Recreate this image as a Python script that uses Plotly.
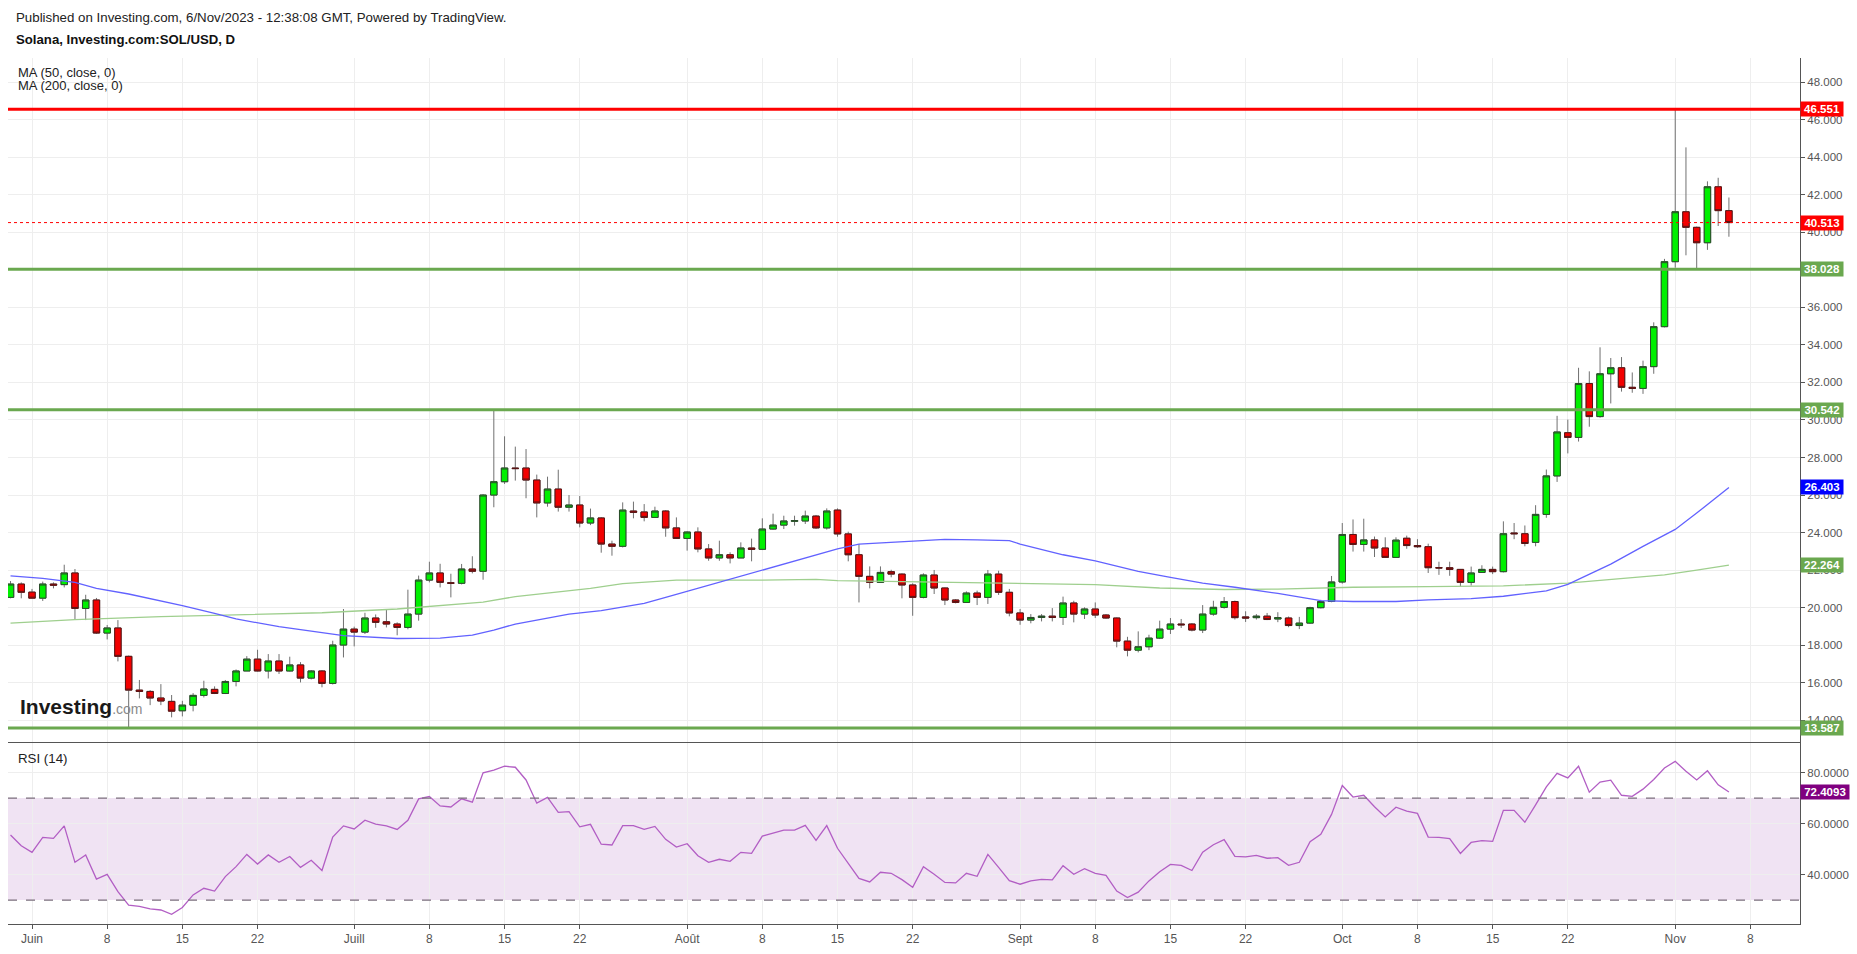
import pandas as pd
import plotly.graph_objects as go

# ---------------- data ----------------
dates = pd.date_range("2023-05-30", "2023-11-06", freq="D")

opens = [20.55, 21.26, 20.83, 20.51, 21.26, 21.23, 21.85, 19.96, 20.41, 18.65,
         18.92, 17.41, 15.61, 15.54, 15.19, 15.01, 14.51, 14.81, 15.33, 15.65,
         15.43, 16.07, 16.63, 17.26, 16.63, 17.16, 16.63, 16.95, 16.25, 16.63,
         15.97, 18.01,
         18.86, 18.70, 19.45, 19.25, 19.13, 18.95, 19.66, 21.47, 21.85, 21.33,
         21.30, 22.06, 21.94, 26.00, 26.71, 27.44, 27.44, 26.80, 25.58, 26.32,
         25.35, 25.47, 24.51, 24.78, 23.39, 23.27, 25.15, 25.10, 24.81, 25.15,
         24.25,
         23.69, 24.03, 23.13, 22.65, 22.82, 22.65, 23.18, 23.11, 24.19, 24.40,
         24.60, 24.62, 24.88, 24.25, 25.20, 23.93, 22.82, 21.67, 21.35, 21.92,
         21.79, 21.21, 20.55, 21.74, 21.05, 20.41, 20.28, 20.78, 20.55, 21.79,
         20.82,
         19.72, 19.34, 19.48, 19.55, 19.48, 20.25, 19.66, 19.93, 19.61, 19.45,
         18.22, 17.74, 17.92, 18.38, 18.86, 19.13, 19.13, 18.81, 19.66, 20.02,
         20.33, 19.51, 19.47, 19.55, 19.40, 19.45, 19.05, 19.18, 20.00, 20.33,
         21.37, 23.90, 23.37, 23.61, 23.18, 22.68, 23.70, 23.31, 23.25, 22.13,
         22.13, 22.04, 21.35, 21.88, 22.04, 21.92, 23.98, 23.94, 23.48, 24.97,
         27.02, 29.32, 29.07, 31.94, 30.18, 32.46, 32.78, 31.74, 31.68, 32.84,
         34.97,
         38.43, 41.09, 40.26, 39.44, 42.42, 41.15]
highs = [21.42, 21.35, 21.00, 21.39, 21.35, 22.29, 22.06, 20.69, 20.52, 19.08,
         19.34, 17.45, 16.15, 15.61, 15.93, 15.35, 15.04, 15.45, 16.11, 15.81,
         16.15, 16.71, 17.42, 17.76, 17.53, 17.53, 17.39, 17.10, 16.68, 16.68,
         18.24, 19.93,
         18.99, 19.73, 19.64, 19.93, 19.22, 20.96, 21.71, 22.45, 22.34, 21.81,
         22.33, 22.74, 26.05, 30.542, 29.13, 28.58, 28.45, 27.09, 26.98, 27.35,
         26.00, 25.95, 25.28, 24.83, 23.57, 25.61, 25.65, 25.52, 25.38, 25.20,
         24.81,
         24.07, 24.28, 23.39, 23.57, 22.95, 23.48, 23.68, 24.76, 25.01, 24.90,
         24.90, 25.17, 24.94, 25.29, 25.29, 24.05, 23.39, 22.20, 22.20, 22.02,
         21.83, 21.30, 21.83, 22.01, 21.07, 20.46, 20.87, 20.91, 22.01, 21.97,
         21.00,
         19.93, 19.66, 19.66, 19.98, 20.59, 20.37, 20.02, 20.28, 19.66, 19.48,
         18.45, 18.74, 18.56, 19.31, 19.45, 19.40, 19.18, 20.14, 20.37, 20.57,
         20.38, 19.81, 19.66, 19.72, 19.76, 19.53, 19.51, 20.05, 20.42, 21.69,
         24.51, 24.70, 24.74, 23.79, 23.75, 23.75, 23.84, 23.65, 23.41, 22.45,
         22.45, 22.06, 22.19, 22.26, 22.19, 24.60, 24.51, 24.38, 25.46, 27.36,
         30.22, 30.02, 32.78, 32.59, 33.87, 33.30, 33.35, 32.53, 33.16, 35.20,
         38.58,
         46.551, 44.52, 40.30, 42.71, 42.90, 41.85]
lows = [20.50, 20.50, 20.50, 20.36, 21.03, 21.08, 19.38, 19.34, 18.60, 18.31,
        17.14, 13.587, 15.17, 14.81, 14.81, 14.16, 14.21, 14.48, 15.22, 15.40,
        15.40, 15.81, 16.63, 16.60, 16.23, 16.47, 16.60, 16.02, 16.18, 15.76,
        15.91, 17.35,
        17.94, 18.60, 18.93, 18.95, 18.53, 18.85, 19.31, 21.35, 21.08, 20.55,
        21.24, 21.83, 21.49, 25.35, 26.59, 26.77, 25.83, 24.81, 25.38, 25.12,
        25.12, 24.28, 24.40, 22.93, 22.77, 23.21, 24.76, 24.60, 24.78, 23.78,
        23.66,
        23.04, 22.95, 22.50, 22.50, 22.36, 22.65, 22.47, 23.07, 24.16, 24.19,
        24.37, 24.46, 24.19, 24.16, 23.78, 22.47, 20.28, 21.03, 21.35, 21.62,
        20.50, 19.57, 20.50, 20.73, 20.14, 20.23, 20.28, 20.14, 20.20, 20.68,
        19.54,
        19.09, 19.17, 19.27, 19.27, 19.08, 19.22, 19.40, 19.45, 19.41, 17.89,
        17.41, 17.62, 17.74, 18.33, 18.60, 18.92, 18.74, 18.65, 19.57, 19.95,
        19.37, 19.24, 19.37, 19.34, 19.23, 18.96, 18.86, 19.14, 19.96, 20.29,
        21.28, 22.99, 22.99, 22.70, 22.65, 22.65, 23.14, 23.18, 21.85, 21.75,
        21.70, 21.12, 21.18, 21.85, 21.79, 21.88, 23.65, 23.27, 23.27, 24.79,
        26.70, 28.22, 28.85, 29.64, 30.12, 30.88, 31.51, 31.45, 31.39, 32.46,
        34.93,
        38.11, 38.77, 38.028, 39.06, 40.33, 39.76]
closes = [21.26, 20.82, 20.51, 21.26, 21.20, 21.85, 19.96, 20.41, 18.65, 18.92,
          17.41, 15.61, 15.54, 15.19, 15.03, 14.49, 14.81, 15.33, 15.67, 15.43,
          16.07, 16.63, 17.26, 16.63, 17.16, 16.63, 16.95, 16.25, 16.63, 15.97,
          18.01, 18.86,
          18.70, 19.45, 19.22, 19.13, 18.95, 19.66, 21.47, 21.85, 21.35, 21.30,
          22.06, 21.94, 26.00, 26.71, 27.44, 27.41, 26.80, 25.58, 26.32, 25.35,
          25.47, 24.51, 24.78, 23.39, 23.27, 25.20, 25.08, 24.81, 25.15, 24.25,
          23.69,
          24.03, 23.13, 22.65, 22.82, 22.65, 23.18, 23.11, 24.19, 24.40, 24.62,
          24.64, 24.88, 24.25, 25.15, 23.93, 22.82, 21.67, 21.35, 21.88, 21.79,
          21.21, 20.55, 21.74, 21.05, 20.41, 20.28, 20.78, 20.55, 21.79, 20.82,
          19.72,
          19.34, 19.48, 19.55, 19.48, 20.25, 19.66, 19.93, 19.61, 19.45, 18.22,
          17.74, 17.92, 18.38, 18.86, 19.13, 19.09, 18.81, 19.66, 20.02, 20.33,
          19.47, 19.45, 19.55, 19.37, 19.47, 19.05, 19.18, 20.00, 20.33, 21.37,
          23.90, 23.37, 23.61, 23.18, 22.68, 23.60, 23.31, 23.25, 22.13, 22.12,
          22.04, 21.35, 21.85, 22.04, 21.92, 23.94, 23.94, 23.42, 24.97, 27.02,
          29.36, 29.07, 31.94, 30.18, 32.46, 32.78, 31.74, 31.68, 32.84, 34.97,
          38.43,
          41.09, 40.26, 39.44, 42.42, 41.15, 40.513]

rsi_values = [55.5, 51.3, 48.7, 54.6, 54.2, 59.1, 44.8, 47.7, 38.2, 40.1,
              33.3, 28.0, 27.5, 26.5, 26.1, 24.4, 27.1, 32.0, 34.6, 33.5,
              39.2, 43.1, 47.9, 44.1, 47.7, 44.8, 47.1, 42.8, 45.6, 41.6,
              54.7, 59.1,
              57.9, 61.3, 59.8, 59.1, 57.7, 61.3, 69.7, 70.6, 66.9, 66.5,
              69.7, 68.4, 79.9, 81.0, 82.5, 82.1, 77.1, 68.0, 70.3, 64.4,
              64.7, 58.7, 59.7, 51.9, 51.6, 59.2, 59.2, 57.7, 58.9, 53.8,
              50.8,
              52.1, 47.4, 44.8, 46.0, 45.2, 48.7, 48.3, 55.1, 56.3, 57.4,
              57.4, 59.3, 53.4, 59.2, 50.3, 44.3, 38.5, 37.1, 40.9, 40.5,
              38.0, 35.0, 43.1, 40.1, 36.9, 36.7, 40.5, 39.3, 47.9, 42.8,
              37.6,
              36.2, 37.5, 38.1, 37.9, 43.5, 40.1, 42.3, 40.5, 39.7, 33.5,
              31.0, 33.1, 37.5, 41.1, 44.0, 43.6, 41.6, 48.8, 51.7, 53.7,
              47.1, 46.9, 47.5, 46.4, 46.6, 43.6, 44.8, 52.9, 55.8, 63.6,
              74.9, 70.4, 71.1, 66.6, 62.6, 66.4, 64.9, 64.0, 54.7, 54.6,
              54.1, 48.3, 52.6, 53.3, 53.0, 65.2, 65.2, 60.5, 67.3, 74.4,
              79.7, 77.9, 82.5, 72.3, 76.3, 77.0, 71.1, 70.7, 73.5, 77.3,
              81.8,
              84.4, 80.5, 77.1, 80.7, 75.2, 72.4093]

ma50_dates = ["2023-05-30", "2023-06-02", "2023-06-05", "2023-06-07", "2023-06-10",
              "2023-06-13", "2023-06-15", "2023-06-18", "2023-06-20", "2023-06-24",
              "2023-06-28", "2023-06-30", "2023-07-05", "2023-07-09", "2023-07-12",
              "2023-07-14", "2023-07-16", "2023-07-21", "2023-07-24", "2023-07-28",
              "2023-07-30", "2023-08-01", "2023-08-04", "2023-08-08", "2023-08-11",
              "2023-08-15", "2023-08-17", "2023-08-22", "2023-08-25", "2023-08-28",
              "2023-08-31", "2023-09-01", "2023-09-05", "2023-09-08", "2023-09-10",
              "2023-09-12", "2023-09-15", "2023-09-18", "2023-09-21", "2023-09-25",
              "2023-09-29", "2023-10-02", "2023-10-06", "2023-10-09", "2023-10-13",
              "2023-10-16", "2023-10-20", "2023-10-22", "2023-10-26", "2023-10-29",
              "2023-11-01", "2023-11-03", "2023-11-06"]
ma50_values = [21.70, 21.56, 21.35, 21.03, 20.73, 20.37, 20.11, 19.70, 19.40, 18.99,
               18.65, 18.51, 18.36, 18.38, 18.54, 18.81, 19.13, 19.66, 19.84, 20.23,
               20.55, 20.87, 21.35, 22.01, 22.50, 23.13, 23.39, 23.53, 23.64, 23.61,
               23.57, 23.39, 22.82, 22.50, 22.24, 21.94, 21.62, 21.31, 21.09, 20.76,
               20.38, 20.33, 20.33, 20.42, 20.48, 20.61, 20.90, 21.24, 22.32, 23.27,
               24.17, 25.04, 26.403]

ma200_dates = ["2023-05-30", "2023-06-05", "2023-06-13", "2023-06-20", "2023-06-28",
               "2023-07-05", "2023-07-09", "2023-07-13", "2023-07-16", "2023-07-23",
               "2023-07-26", "2023-07-31", "2023-08-08", "2023-08-13", "2023-08-15",
               "2023-08-22", "2023-09-01", "2023-09-08", "2023-09-14", "2023-09-20",
               "2023-09-25", "2023-10-02", "2023-10-09", "2023-10-16", "2023-10-22",
               "2023-10-27", "2023-10-31", "2023-11-03", "2023-11-06"]
ma200_values = [19.18, 19.36, 19.52, 19.61, 19.73, 19.93, 20.11, 20.30, 20.59, 21.03,
                21.28, 21.47, 21.47, 21.51, 21.44, 21.39, 21.31, 21.23, 21.05, 20.97,
                20.99, 21.09, 21.12, 21.16, 21.31, 21.56, 21.75, 22.00, 22.264]

resistance_levels = [46.551]
support_levels = [38.028, 30.542, 13.587]
last_price = 40.513
rsi_bands = [30, 70]
rsi_last = 72.4093

tick_dates = ["2023-06-01", "2023-06-08", "2023-06-15", "2023-06-22",
              "2023-07-01", "2023-07-08", "2023-07-15", "2023-07-22",
              "2023-08-01", "2023-08-08", "2023-08-15", "2023-08-22",
              "2023-09-01", "2023-09-08", "2023-09-15", "2023-09-22",
              "2023-10-01", "2023-10-08", "2023-10-15", "2023-10-22",
              "2023-11-01", "2023-11-08"]
tick_labels = ["Juin", "8", "15", "22", "Juill", "8", "15", "22",
               "Août", "8", "15", "22", "Sept", "8", "15", "22",
               "Oct", "8", "15", "22", "Nov", "8"]

# ---------------- layout geometry (pixels) ----------------
W, H = 1857, 954
ML, MR, MT, MB = 8, 57, 58, 30
PW, PH = W - ML - MR, H - MT - MB
SPLIT = 742.5                       # divider between price and RSI panes
split_paper = (H - MB - SPLIT) / PH


def px_x(px):
    return (px - ML) / PW


def px_y(py):
    return (H - MB - py) / PH


FONT = "Liberation Sans, Arial, sans-serif"
GRID = "#eeeeee"
AXIS = "#555555"
GREEN_LVL = "#6aa84f"

# body extents (needed so that wicks and bodies can take different colours)
body_hi = [max(o, c) for o, c in zip(opens, closes)]
body_lo = [min(o, c) for o, c in zip(opens, closes)]

fig = go.Figure()

# wicks (grey)
fig.add_trace(go.Candlestick(
    x=dates, open=opens, high=highs, low=lows, close=closes,
    increasing=dict(fillcolor="#707070", line=dict(color="#707070", width=1)),
    decreasing=dict(fillcolor="#707070", line=dict(color="#707070", width=1)),
    whiskerwidth=0, showlegend=False, hoverinfo="skip", xaxis="x", yaxis="y",
))
# bodies
fig.add_trace(go.Candlestick(
    x=dates, open=opens, high=body_hi, low=body_lo, close=closes,
    increasing=dict(fillcolor="#00f000", line=dict(color="#2a4d2a", width=1)),
    decreasing=dict(fillcolor="#f20000", line=dict(color="#5a1414", width=1)),
    whiskerwidth=0, showlegend=False, hoverinfo="skip", xaxis="x", yaxis="y",
))
fig.add_trace(go.Scatter(x=ma200_dates, y=ma200_values, mode="lines",
                         line=dict(color="#9fcf8e", width=1.3),
                         showlegend=False, hoverinfo="skip", yaxis="y"))
fig.add_trace(go.Scatter(x=ma50_dates, y=ma50_values, mode="lines",
                         line=dict(color="#6262ff", width=1.3),
                         showlegend=False, hoverinfo="skip", yaxis="y"))
fig.add_trace(go.Scatter(x=dates, y=rsi_values, mode="lines",
                         line=dict(color="#b25ec4", width=1.3),
                         showlegend=False, hoverinfo="skip", yaxis="y2"))

shapes = []
# RSI band
shapes.append(dict(type="rect", xref="paper", x0=0, x1=1, yref="y2",
                   y0=rsi_bands[0], y1=rsi_bands[1],
                   fillcolor="rgba(150,60,170,0.14)", line=dict(width=0),
                   layer="below"))
for b in rsi_bands:
    shapes.append(dict(type="line", xref="paper", x0=0, x1=1, yref="y2",
                       y0=b, y1=b, line=dict(color="#7a6e7c", width=1.2, dash="dash")))
# level lines
for lv in resistance_levels:
    shapes.append(dict(type="line", xref="paper", x0=0, x1=1, yref="y",
                       y0=lv, y1=lv, line=dict(color="#ff0000", width=3)))
for lv in support_levels:
    shapes.append(dict(type="line", xref="paper", x0=0, x1=1, yref="y",
                       y0=lv, y1=lv, line=dict(color=GREEN_LVL, width=3)))
shapes.append(dict(type="line", xref="paper", x0=0, x1=1, yref="y",
                   y0=last_price, y1=last_price,
                   line=dict(color="#ff0000", width=1, dash="dot")))
# divider between panes
shapes.append(dict(type="line", xref="paper", x0=0, x1=1, yref="paper",
                   y0=split_paper, y1=split_paper, line=dict(color=AXIS, width=1)))

annotations = []


def text_ann(txt, x_px, y_px, size, color="#222222", bold=False):
    if bold:
        txt = "<b>" + txt + "</b>"
    annotations.append(dict(text=txt, xref="paper", yref="paper",
                            x=px_x(x_px), y=px_y(y_px), xanchor="left",
                            yanchor="middle", showarrow=False,
                            font=dict(family=FONT, size=size, color=color)))


text_ann("Published on Investing.com, 6/Nov/2023 - 12:38:08 GMT, Powered by TradingView.",
         14, 17, 13.3, "#222222")
text_ann("Solana, Investing.com:SOL/USD, D", 14, 40, 13.2, "#111111", bold=True)
text_ann("MA (50, close, 0)", 16, 72, 13, "#222222")
text_ann("MA (200, close, 0)", 16, 86, 13, "#222222")
text_ann("RSI (14)", 16, 758, 13.3, "#222222")
annotations.append(dict(
    text="<b>Investing</b><span style='font-size:14px;color:#8a8a8a'>.com</span>",
    xref="paper", yref="paper", x=px_x(18), y=px_y(706), xanchor="left",
    yanchor="middle", showarrow=False,
    font=dict(family=FONT, size=21, color="#1a1a1a")))


def price_label(val, bg, yref="y", fmt="{:.3f}", width=42):
    annotations.append(dict(text="<b>" + fmt.format(val) + "</b>", xref="paper",
                            yref=yref, x=1, y=val, xanchor="left", yanchor="middle",
                            showarrow=False, bgcolor=bg, width=width, height=14,
                            borderpad=0, align="center",
                            font=dict(family=FONT, size=11.5, color="white")))


price_label(resistance_levels[0], "#ff0000")
price_label(last_price, "#ff0000")
price_label(support_levels[0], GREEN_LVL)
price_label(support_levels[1], GREEN_LVL)
price_label(ma50_values[-1], "#0000ff")
price_label(ma200_values[-1], GREEN_LVL)
price_label(support_levels[2], GREEN_LVL)
price_label(rsi_last, "#800080", yref="y2", fmt="{:.4f}", width=48)

# x range from pixel geometry: Jun 1 sits at x=32px, 10.74 px per day
day_px = 10.74
x0 = pd.Timestamp("2023-06-01") - pd.Timedelta(days=(32 - ML) / day_px)
x1 = pd.Timestamp("2023-06-01") + pd.Timedelta(days=(ML + PW - 32) / day_px)

fig.update_layout(
    width=W, height=H,
    margin=dict(l=ML, r=MR, t=MT, b=MB, pad=0),
    paper_bgcolor="white", plot_bgcolor="white",
    boxgap=0.4, boxgroupgap=0, boxmode="overlay",
    showlegend=False,
    shapes=shapes, annotations=annotations,
    font=dict(family=FONT, size=12, color="#555555"),
    xaxis=dict(type="date", range=[x0, x1], anchor="y2",
               tickvals=tick_dates, ticktext=tick_labels,
               showgrid=True, gridcolor=GRID, gridwidth=1,
               showline=True, linecolor=AXIS, linewidth=1,
               ticks="outside", ticklen=4, tickcolor=AXIS,
               tickfont=dict(family=FONT, size=12, color="#555555"),
               rangeslider=dict(visible=False), zeroline=False, fixedrange=True),
    yaxis=dict(domain=[split_paper, 1], anchor="x", side="right",
               range=[12.82, 49.28], dtick=2, tick0=0, tickformat=".3f",
               showgrid=True, gridcolor=GRID, gridwidth=1,
               showline=True, linecolor=AXIS, linewidth=1,
               ticks="outside", ticklen=4, tickcolor=AXIS,
               tickfont=dict(family=FONT, size=11.5, color="#555555"),
               zeroline=False, fixedrange=True),
    yaxis2=dict(domain=[0, split_paper], anchor="x", side="right",
                range=[20.6, 91.8], tickvals=[40, 60, 80], tickformat=".4f",
                showgrid=True, gridcolor=GRID, gridwidth=1,
                showline=True, linecolor=AXIS, linewidth=1,
                ticks="outside", ticklen=4, tickcolor=AXIS,
                tickfont=dict(family=FONT, size=11.5, color="#555555"),
                zeroline=False, fixedrange=True),
)

fig.write_html("out.html")
